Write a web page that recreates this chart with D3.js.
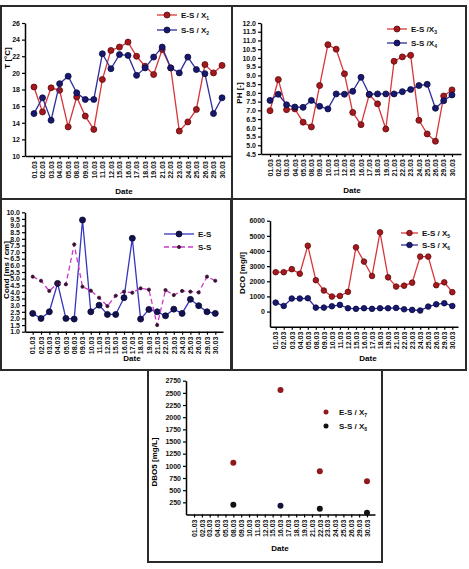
<!DOCTYPE html>
<html><head><meta charset="utf-8">
<script src="https://cdn.jsdelivr.net/npm/d3@7"></script>
<style>
body{margin:0;background:#fff;}
svg{display:block;font-family:"Liberation Sans",Arial,sans-serif;font-weight:bold;}
</style></head><body>
<svg id="c" width="469" height="569"></svg>
<script>
const dates = ["01.03","02.03","03.03","04.03","05.03","08.03","09.03","10.03","11.03","12.03","15.03","16.03","17.03","18.03","19.03","21.03","22.03","23.03","24.03","25.03","26.03","29.03","30.03"];

const tempES = [18.3,15.3,18.2,17.9,13.5,17.1,14.8,13.2,19.2,22.7,23.1,23.7,22.0,20.8,19.8,22.8,20.6,13.0,14.1,15.6,21.0,20.0,20.9];
const tempSS = [15.1,17.0,14.3,18.7,19.6,17.6,16.8,16.8,22.3,20.5,22.2,22.1,19.7,20.6,21.9,23.1,20.6,20.0,21.9,20.4,19.9,15.1,17.0];
const tempTicks = [10,12,14,16,18,20,22,24,26];

const phES = [6.98,8.76,7.04,7.08,6.32,6.05,8.42,10.76,10.5,9.09,6.88,6.18,7.9,7.37,5.93,9.81,10.06,10.15,6.43,5.65,5.23,7.82,8.17];
const phSS = [7.57,7.92,7.32,7.19,7.17,7.57,7.23,7.08,7.94,7.92,8.09,8.89,7.92,7.94,7.94,7.94,8.07,8.19,8.42,8.49,7.12,7.55,7.88];
const phTicks = [4.5,5,5.5,6,6.5,7,7.5,8,8.5,9,9.5,10,10.5,11,11.5,12];

const condES = [2.38,2.0,2.5,4.64,2.0,1.95,9.42,2.5,3.0,2.3,2.3,3.56,8.04,1.95,2.68,2.5,2.2,2.7,2.38,3.44,2.96,2.5,2.38];
const condSS = [5.15,4.84,4.07,4.64,4.57,7.58,4.39,4.09,3.56,2.93,3.71,4.02,3.94,4.27,4.17,1.5,4.14,3.76,4.07,4.02,3.96,5.15,4.84];
const condTicks = [1,1.5,2,2.5,3,3.5,4,4.5,5,5.5,6,6.5,7,7.5,8,8.5,9,9.5,10];

const codES = [2600,2600,2800,2500,4350,2070,1390,990,1030,1300,4240,3300,2350,5230,2260,1650,1710,1910,3630,3630,1740,1930,1280];
const codSS = [590,370,860,860,880,260,260,350,440,220,180,220,180,220,220,240,150,110,70,330,480,550,370];
const codTicks = [0,1000,2000,3000,4000,5000,6000];

const dboDates = ["08.03","16.03","22.03","30.03"];
const dboES = [1065,2560,887,681];
const dboSS = [202,182,120,38];
const dboTicks = [250,500,750,1000,1250,1500,1750,2000,2250,2500,2750];

const svg = d3.select("#c");

// frames
const frames = [[1,6,231,193],[232,6,234,193],[1,199,230,171],[232,199,234,171],[148,370,234,192]];
svg.selectAll("rect.frame").data(frames).join("rect").attr("class","frame")
  .attr("x",d=>d[0]).attr("y",d=>d[1]).attr("width",d=>d[2]).attr("height",d=>d[3])
  .attr("fill","none").attr("stroke","#2a2a2a").attr("stroke-width",2);

function panel(o){
  const g = svg.append("g");
  const x = d3.scalePoint().domain(dates).range(o.xr).padding(o.pad);
  const y = d3.scaleLinear().domain(o.yd).range(o.yr);
  const xa = g.append("g").attr("transform",`translate(0,${o.yr[0]})`)
    .call(d3.axisBottom(x).tickSize(3).tickSizeOuter(0));
  xa.selectAll("text").attr("transform","rotate(-90)").attr("text-anchor","end")
    .attr("x",-5).attr("y",0).attr("dy","0.32em").style("font-size","7px").style("font-weight","bold").attr("fill","#111");
  const ya = g.append("g").attr("transform",`translate(${o.xr[0]},0)`)
    .call(d3.axisLeft(y).tickValues(o.ticks).tickSize(3).tickSizeOuter(0).tickFormat(o.fmt));
  ya.selectAll("text").style("font-size","7px").style("font-weight","bold").attr("fill","#111").attr("x",-5);
  [xa,ya].forEach(a=>{a.select(".domain").attr("stroke","#000").attr("stroke-width",1.5);a.selectAll(".tick line").attr("stroke","#000").attr("stroke-width",1.2);});
  g.append("text").attr("x",o.dateX).attr("y",o.dateY).attr("text-anchor","middle").style("font-size","8px").text("Date");
  g.append("text").attr("transform",`translate(${o.ylx},${o.yly}) rotate(-90)`).attr("text-anchor","middle").style("font-size","8px").text(o.ylab);
  o.series.forEach(s=>{
    if(s.line!==false){
      g.append("path").datum(s.v).attr("fill","none").attr("stroke",s.color).attr("stroke-width",1.3)
        .attr("stroke-dasharray",s.dash||null)
        .attr("d",d3.line().x((d,i)=>x(dates[i])).y(d=>y(d)));
    }
    g.selectAll(null).data(s.v).join("circle").attr("cx",(d,i)=>x(dates[i])).attr("cy",d=>y(d))
      .attr("r",s.r).attr("fill",s.mfill).attr("stroke",s.mstroke).attr("stroke-width",0.8);
  });
  o.legend.forEach((l,k)=>{
    const ly = o.legY + k*o.legDy;
    if(l.line!==false){
      g.append("line").attr("x1",o.legX).attr("x2",o.legX+o.legW).attr("y1",ly).attr("y2",ly)
        .attr("stroke",l.color).attr("stroke-width",1.3).attr("stroke-dasharray",l.dash||null);
    }
    g.append("circle").attr("cx",o.legX+o.legW/2).attr("cy",ly).attr("r",l.r).attr("fill",l.mfill).attr("stroke",l.mstroke).attr("stroke-width",0.8);
    const t = g.append("text").attr("x",o.legX+o.legW+4).attr("y",ly+3).style("font-size","8px").attr("fill","#111").text(l.text);
    if(l.sub) t.append("tspan").attr("dy",2).style("font-size","5px").text(l.sub);
  });
  return {x,y,g};
}

const RED = {color:"#d8363a", mfill:"#a5191e", mstroke:"#5a0a0a", r:3};
const BLUE = {color:"#2d2d9c", mfill:"#18186e", mstroke:"#0a0a40", r:3};

panel({xr:[25,231],pad:1.05,yd:[10,26],yr:[156,23],ticks:tempTicks,fmt:d3.format("d"),
  dateX:124,dateY:194,ylx:10,yly:58,ylab:"T [°C]",
  series:[{v:tempES,...RED},{v:tempSS,...BLUE}],
  legX:157,legW:20,legY:15,legDy:15,
  legend:[{text:"E-S / X",sub:"1",...RED},{text:"S-S / X",sub:"2",...BLUE}]});

panel({xr:[261,461],pad:1.09,yd:[4.5,12],yr:[154,23],ticks:phTicks,fmt:d3.format(".1f"),
  dateX:352,dateY:193,ylx:242,yly:93,ylab:"PH [-]",
  series:[{v:phES,...RED},{v:phSS,...BLUE}],
  legX:387,legW:20,legY:29,legDy:14,
  legend:[{text:"E-S /X",sub:"3",...RED},{text:"S-S /X",sub:"4",...BLUE}]});

const CB = {color:"#3535c0", mfill:"#121250", mstroke:"#060630", r:3};
const CP = {color:"#cc38cc", mfill:"#3a1030", mstroke:"#3a1030", r:1.6, dash:"5,3"};
panel({xr:[25,223],pad:0.93,yd:[1,10],yr:[331.7,212.3],ticks:condTicks,fmt:d3.format(".1f"),
  dateX:132,dateY:361,ylx:9,yly:270,ylab:"Cond [ms / cm]",
  series:[{v:condES,...CB},{v:condSS,...CP}],
  legX:164,legW:30,legY:234,legDy:13,
  legend:[{text:"E-S",...CB},{text:"S-S",...CP}]});

panel({xr:[270,458],pad:0.71,yd:[-1000,6000],yr:[326.7,220.7],ticks:codTicks,fmt:d3.format("d"),
  dateX:368,dateY:361,ylx:245,yly:273,ylab:"DCO [mg/l]",
  series:[{v:codES,...RED,r:2.8},{v:codSS,...BLUE,r:2.8}],
  legX:401,legW:17,legY:233,legDy:12,
  legend:[{text:"E-S / X",sub:"5",...RED,r:2.8},{text:"S-S / X",sub:"6",...BLUE,r:2.8}]});

// DBO5 scatter panel
(function(){
  const g = svg.append("g");
  const x = d3.scalePoint().domain(dates).range([186,375]).padding(1.02);
  const y = d3.scaleLinear().domain([0,2750]).range([514.5,380.7]);
  const xa = g.append("g").attr("transform","translate(0,514.5)").call(d3.axisBottom(x).tickSize(3).tickSizeOuter(0));
  xa.selectAll("text").attr("transform","rotate(-90)").attr("text-anchor","end")
    .attr("x",-5).attr("y",0).attr("dy","0.32em").style("font-size","7px").style("font-weight","bold").attr("fill","#111");
  const ya = g.append("g").attr("transform","translate(186,0)").call(d3.axisLeft(y).tickValues(dboTicks).tickSize(3).tickSizeOuter(0).tickFormat(d3.format("d")));
  ya.selectAll("text").style("font-size","7px").style("font-weight","bold").attr("fill","#111").attr("x",-5);
  [xa,ya].forEach(a=>{a.select(".domain").attr("stroke","#000").attr("stroke-width",1.5);a.selectAll(".tick line").attr("stroke","#000").attr("stroke-width",1.2);});
  g.append("text").attr("x",280).attr("y",551).attr("text-anchor","middle").style("font-size","8px").text("Date");
  g.append("text").attr("transform","translate(157,462) rotate(-90)").attr("text-anchor","middle").style("font-size","8px").text("DBO5 [mg/L]");
  g.selectAll(null).data(dboES).join("circle").attr("cx",(d,i)=>x(dboDates[i])).attr("cy",d=>y(d)).attr("r",3).attr("fill","#8e1a1e");
  g.selectAll(null).data(dboSS).join("circle").attr("cx",(d,i)=>x(dboDates[i])).attr("cy",d=>y(d)).attr("r",3).attr("fill",(d,i)=>i===1?"#14143a":"#111");
  const leg=[{t:"E-S / X",s:"7",c:"#8e1a1e",y:412},{t:"S-S / X",s:"8",c:"#111",y:426}];
  leg.forEach(l=>{
    g.append("circle").attr("cx",326).attr("cy",l.y).attr("r",2.5).attr("fill",l.c);
    const t=g.append("text").attr("x",339).attr("y",l.y+3).style("font-size","8px").attr("fill","#111").text(l.t);
    t.append("tspan").attr("dy",2).style("font-size","5px").text(l.s);
  });
})();
</script>
</body></html>
